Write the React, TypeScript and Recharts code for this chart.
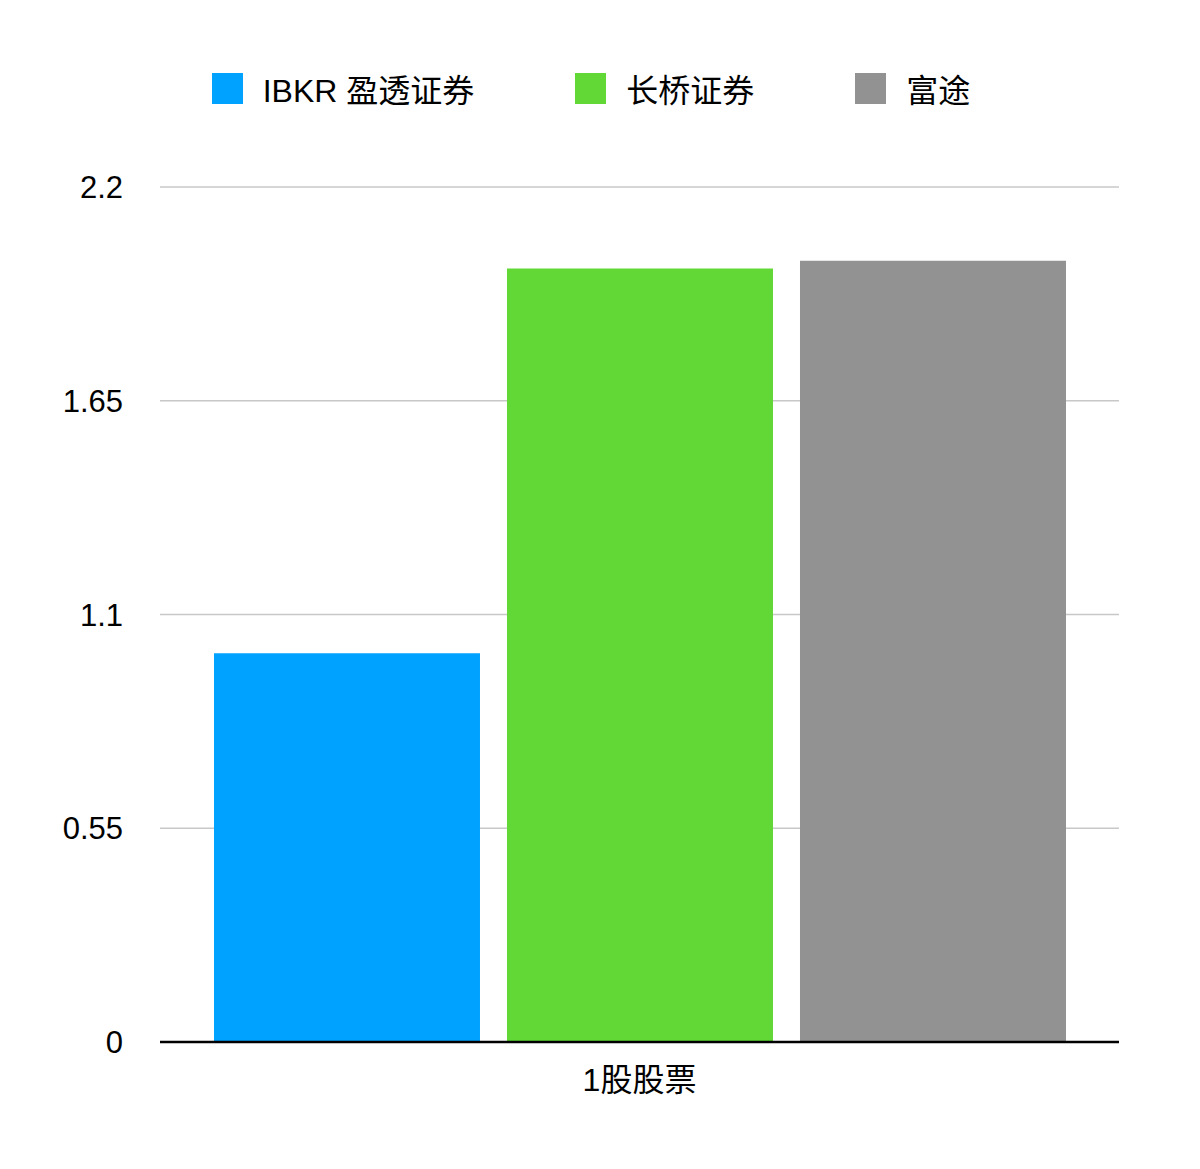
import React from "react";
import { BarChart, Bar, XAxis, YAxis, CartesianGrid, Legend } from "recharts";

const categories = ["1股股票"];
const ibkrValues = [1.0];
const longbridgeValues = [1.99];
const futuValues = [2.01];
const yTicks = [0, 0.55, 1.1, 1.65, 2.2];

const seriesNames = ["IBKR 盈透证券", "长桥证券", "富途"];
const seriesKeys = ["ibkr", "longbridge", "futu"];
const seriesColors = ["#00A2FF", "#61D836", "#929292"];

const data = categories.map((name, i) => ({
  name,
  ibkr: ibkrValues[i],
  longbridge: longbridgeValues[i],
  futu: futuValues[i],
}));

const FONT = '"Liberation Sans", Arial, "Noto Sans CJK SC", sans-serif';

const renderLegend = () => (
  <div
    style={{
      height: 60,
      display: "flex",
      justifyContent: "center",
      alignItems: "center",
      gap: 101,
      paddingRight: 18,
      boxSizing: "border-box",
      fontFamily: FONT,
      fontSize: 32,
      color: "#000",
    }}
  >
    {seriesNames.map((n, i) => (
      <div key={n} style={{ display: "flex", alignItems: "center" }}>
        <span
          style={{
            display: "inline-block",
            width: 31,
            height: 31,
            background: seriesColors[i],
            marginRight: 20,
          }}
        />
        <span>{n}</span>
      </div>
    ))}
  </div>
);

export default function App() {
  return (
    <div style={{ width: 1184, height: 1150, background: "#fff" }}>
      <BarChart
        width={1184}
        height={1150}
        data={data}
        margin={{ top: 119, right: 73, bottom: 56, left: 0 }}
        barCategoryGap="5.63%"
        barGap={27}
      >
        <CartesianGrid
          vertical={false}
          stroke="#c8c8c8"
          strokeWidth={1.5}
        />
        <Legend
          verticalAlign="top"
          content={renderLegend}
          wrapperStyle={{ top: 50, left: 0, width: 1184 }}
        />
        <XAxis
          dataKey="name"
          height={60}
          tickSize={0}
          tickMargin={26}
          axisLine={{ stroke: "#000", strokeWidth: 2.5 }}
          tickLine={false}
          tick={{ fill: "#000", fontSize: 32, fontFamily: FONT }}
        />
        <YAxis
          width={152}
          domain={[0, 2.2]}
          ticks={yTicks}
          interval={0}
          tickSize={0}
          tickMargin={37}
          axisLine={false}
          tickLine={false}
          tick={{ fill: "#000", fontSize: 31, fontFamily: FONT }}
        />
        {seriesKeys.map((k, i) => (
          <Bar
            key={k}
            dataKey={k}
            name={seriesNames[i]}
            fill={seriesColors[i]}
            isAnimationActive={false}
          />
        ))}
      </BarChart>
    </div>
  );
}
